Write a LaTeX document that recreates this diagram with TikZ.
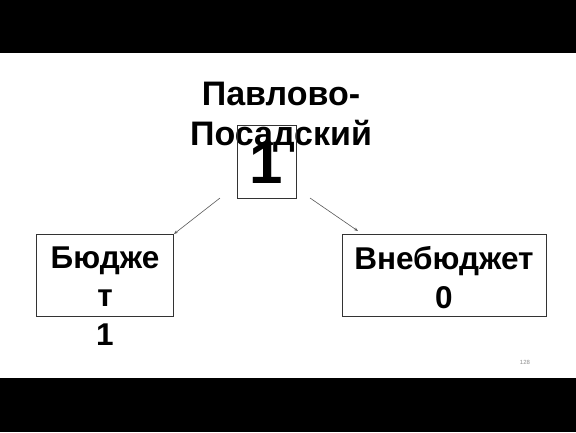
\documentclass[tikz,border=0pt]{standalone}
\usepackage{fontspec}
\setmainfont{Liberation Sans}
\usetikzlibrary{arrows.meta}
\begin{document}
\begin{tikzpicture}[x=1pt,y=-1pt,
  bar/.style={fill=black,draw=none},
  boxshape/.style={draw=black!80,line width=0.9pt,fill=none},
  bigtext/.style={font=\fontsize{34}{40}\selectfont\bfseries,align=center,inner sep=0pt,anchor=base},
  boxtext/.style={font=\fontsize{31.5}{38.5}\selectfont\bfseries,align=center,inner sep=0pt,anchor=base},
  conn/.style={draw=black!65,line width=0.6pt,-{Stealth[length=4pt,width=3pt]}}]
\useasboundingbox (0,0) rectangle (576,432);
\fill[bar] (0,0) rectangle (576,53);
\fill[bar] (0,378) rectangle (576,432);
% title
\node[bigtext] (title) at (281,145) {Павлово-\\Посадский};
% center box
\draw[boxshape] (237,125) rectangle (296,198);
\node[font=\fontsize{60}{60}\selectfont\bfseries,inner sep=0pt,anchor=base] (one) at (266.5,183) {1};
% left box
\node[boxshape,minimum width=137pt,minimum height=82pt,inner sep=0pt,anchor=north west] (lbox) at (36,234) {};
\node[boxtext] (ltext) at (105,345) {Бюдже\\т\\1};
% right box
\node[boxshape,minimum width=204pt,minimum height=82pt,inner sep=0pt,anchor=north west] (rbox) at (342,234) {};
\node[boxtext] (rtext) at (444,308) {Внебюджет\\0};
% connectors
\coordinate (ls) at (220,198);
\coordinate (rs) at (310,198);
\coordinate (re) at (358,231);
\draw[conn] (ls) -- (lbox.north east);
\draw[conn] (rs) -- (re);
% page number
\node[font=\fontsize{6}{7}\selectfont,text=black!45,inner sep=0pt] (pg) at (525,362) {128};
\end{tikzpicture}
\end{document}
